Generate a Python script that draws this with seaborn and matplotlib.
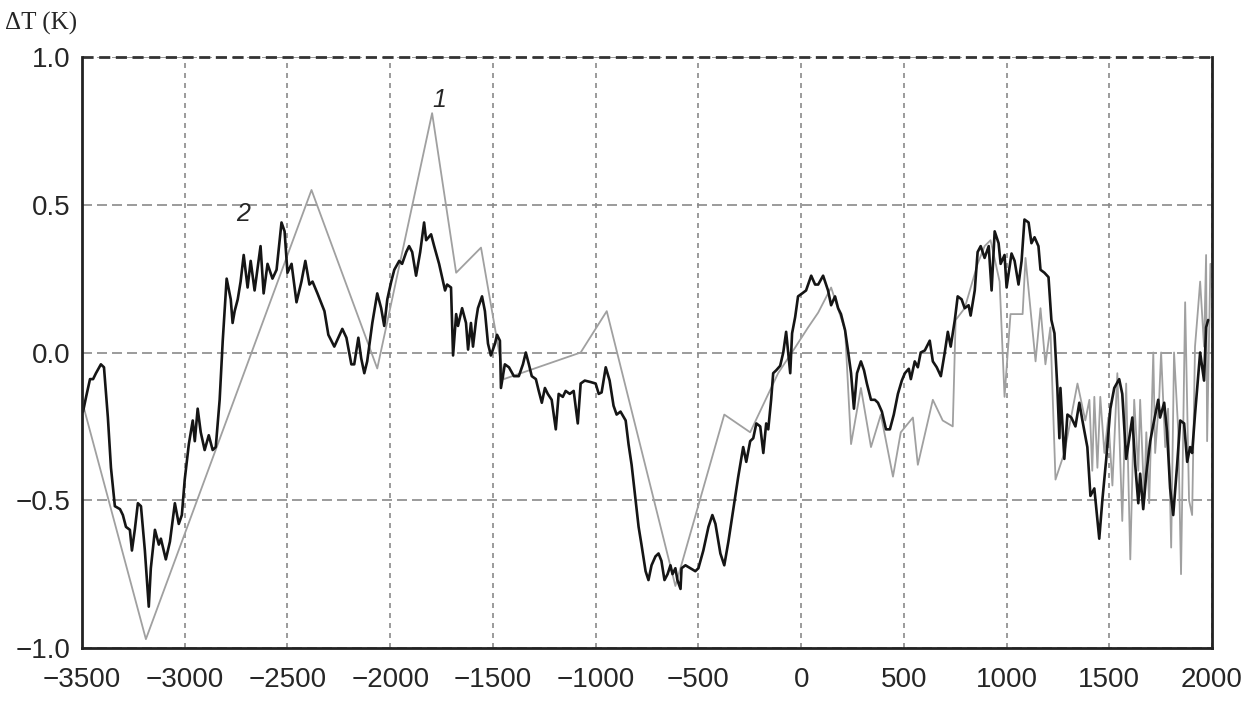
import pandas as pd
import matplotlib.pyplot as plt
import seaborn as sns

# series 2 (black, smoothed reconstruction)
black_year = [-3495, -3480, -3461, -3446, -3432, -3408, -3393, -3374, -3359, -3340,
              -3315, -3301, -3286, -3267, -3257, -3243, -3228, -3213, -3194, -3175,
              -3165, -3145, -3126, -3116, -3092, -3072, -3048, -3029, -3014, -3000,
              -2980, -2961, -2951, -2937, -2922, -2903, -2883, -2864, -2849, -2830,
              -2815, -2796, -2776, -2767, -2757, -2742, -2728, -2713, -2694, -2679,
              -2660, -2631, -2616, -2597, -2573, -2553, -2529, -2514, -2500, -2480,
              -2456, -2432, -2413, -2393, -2378, -2354, -2320, -2301, -2272, -2233,
              -2213, -2189, -2175, -2155, -2141, -2126, -2112, -2087, -2063, -2044,
              -2029, -2014, -1995, -1980, -1956, -1942, -1922, -1908, -1893, -1874,
              -1854, -1835, -1825, -1801, -1786, -1762, -1733, -1723, -1704, -1694,
              -1679, -1670, -1650, -1631, -1621, -1607, -1597, -1582, -1573, -1553,
              -1539, -1524, -1510, -1490, -1480, -1466, -1461, -1442, -1422, -1398,
              -1374, -1354, -1340, -1325, -1311, -1291, -1277, -1262, -1247, -1233,
              -1214, -1194, -1180, -1160, -1146, -1126, -1107, -1087, -1073, -1053,
              -1024, -1000, -985, -971, -951, -932, -913, -898, -879, -854,
              -840, -825, -791, -777, -757, -743, -728, -709, -694, -680,
              -665, -650, -636, -626, -612, -602, -587, -582, -563, -539,
              -515, -500, -476, -451, -432, -417, -393, -374, -354, -330,
              -306, -282, -267, -248, -233, -218, -199, -184, -170, -160,
              -146, -136, -121, -102, -87, -73, -53, -44, -29, -15,
              5, 24, 49, 68, 83, 107, 131, 146, 165, 180,
              194, 214, 228, 243, 257, 272, 291, 306, 320, 340,
              359, 374, 393, 413, 432, 451, 471, 490, 505, 524,
              534, 553, 568, 582, 602, 626, 641, 660, 680, 699,
              714, 728, 748, 762, 781, 796, 815, 825, 845, 859,
              874, 893, 913, 927, 942, 961, 971, 990, 1000, 1024,
              1039, 1058, 1073, 1087, 1107, 1121, 1136, 1155, 1165, 1184,
              1204, 1218, 1233, 1247, 1257, 1262, 1281, 1296, 1315, 1335,
              1354, 1369, 1393, 1408, 1427, 1451, 1466, 1485, 1505, 1524,
              1548, 1563, 1582, 1612, 1626, 1641, 1650, 1665, 1680, 1699,
              1718, 1738, 1747, 1767, 1781, 1796, 1811, 1830, 1845, 1864,
              1879, 1893, 1903, 1917, 1942, 1961, 1971, 1981]
black_dt = [-0.20, -0.15, -0.09, -0.09, -0.07, -0.04, -0.05, -0.22, -0.39, -0.52,
            -0.53, -0.55, -0.59, -0.60, -0.67, -0.60, -0.51, -0.52, -0.67, -0.86,
            -0.73, -0.60, -0.65, -0.63, -0.70, -0.64, -0.51, -0.58, -0.55, -0.43,
            -0.31, -0.23, -0.30, -0.19, -0.27, -0.33, -0.28, -0.33, -0.32, -0.16,
            0.04, 0.25, 0.18, 0.10, 0.14, 0.18, 0.24, 0.33, 0.22, 0.31,
            0.21, 0.36, 0.20, 0.30, 0.25, 0.28, 0.44, 0.41, 0.27, 0.30,
            0.17, 0.24, 0.31, 0.23, 0.24, 0.20, 0.14, 0.06, 0.02, 0.08,
            0.05, -0.04, -0.04, 0.05, -0.02, -0.07, -0.03, 0.10, 0.20, 0.15,
            0.09, 0.18, 0.24, 0.28, 0.31, 0.30, 0.34, 0.36, 0.34, 0.26,
            0.34, 0.44, 0.38, 0.40, 0.36, 0.30, 0.21, 0.23, 0.22, -0.01,
            0.13, 0.09, 0.15, 0.10, 0.01, 0.10, 0.02, 0.11, 0.15, 0.19,
            0.14, 0.03, -0.01, 0.03, 0.06, 0.04, -0.12, -0.04, -0.05, -0.08,
            -0.08, -0.04, 0.00, -0.04, -0.08, -0.09, -0.13, -0.17, -0.12, -0.14,
            -0.16, -0.26, -0.14, -0.15, -0.13, -0.14, -0.13, -0.24, -0.105, -0.095,
            -0.10, -0.105, -0.14, -0.135, -0.05, -0.095, -0.18, -0.21, -0.20, -0.23,
            -0.31, -0.38, -0.59, -0.65, -0.74, -0.77, -0.72, -0.69, -0.68, -0.705,
            -0.77, -0.75, -0.72, -0.75, -0.73, -0.77, -0.80, -0.73, -0.72, -0.73,
            -0.74, -0.73, -0.67, -0.59, -0.55, -0.58, -0.68, -0.72, -0.64, -0.53,
            -0.42, -0.32, -0.37, -0.30, -0.29, -0.24, -0.25, -0.34, -0.24, -0.26,
            -0.16, -0.07, -0.06, -0.045, 0.0, 0.07, -0.07, 0.065, 0.12, 0.19,
            0.20, 0.21, 0.26, 0.23, 0.23, 0.26, 0.21, 0.16, 0.19, 0.15,
            0.13, 0.075, 0.007, -0.07, -0.19, -0.07, -0.03, -0.06, -0.105, -0.16,
            -0.16, -0.17, -0.20, -0.26, -0.26, -0.21, -0.14, -0.095, -0.07, -0.055,
            -0.09, -0.03, -0.05, 0.0, 0.007, 0.04, -0.03, -0.05, -0.08, 0.0,
            0.07, 0.02, 0.11, 0.19, 0.18, 0.15, 0.16, 0.125, 0.21, 0.34,
            0.36, 0.32, 0.36, 0.21, 0.41, 0.37, 0.30, 0.33, 0.22, 0.335,
            0.31, 0.23, 0.31, 0.45, 0.44, 0.37, 0.39, 0.36, 0.28, 0.27,
            0.255, 0.11, 0.065, -0.12, -0.29, -0.12, -0.36, -0.21, -0.22, -0.25,
            -0.17, -0.23, -0.32, -0.485, -0.46, -0.63, -0.50, -0.36, -0.19, -0.12,
            -0.09, -0.14, -0.36, -0.22, -0.38, -0.51, -0.41, -0.53, -0.41, -0.30,
            -0.23, -0.16, -0.22, -0.17, -0.27, -0.46, -0.55, -0.38, -0.23, -0.24,
            -0.37, -0.32, -0.34, -0.21, 0.0, -0.095, 0.085, 0.11]

# series 1 (grey, proxy data)
grey_year = [-3490, -3189, -2383, -2063, -1796, -1679, -1558, -1447, -1073, -946,
             -612, -374, -248, -112, -29, 34, 83, 146, 214, 243,
             291, 340, 388, 447, 485, 544, 568, 641, 689, 738,
             752, 796, 859, 893, 922, 966, 990, 1019, 1078, 1092,
             1141, 1165, 1189, 1213, 1238, 1281, 1345, 1383, 1403, 1417,
             1427, 1442, 1456, 1476, 1495, 1515, 1539, 1563, 1582, 1602,
             1621, 1641, 1650, 1670, 1680, 1694, 1714, 1723, 1743, 1752,
             1772, 1786, 1801, 1815, 1835, 1849, 1869, 1888, 1903, 1917,
             1932, 1942, 1961, 1971, 1976, 1992]
grey_dt = [-0.19, -0.97, 0.55, -0.054, 0.81, 0.27, 0.355, -0.09, 0.0, 0.14,
           -0.79, -0.21, -0.27, -0.07, 0.017, 0.085, 0.135, 0.22, 0.075, -0.31,
           -0.12, -0.32, -0.21, -0.42, -0.27, -0.22, -0.38, -0.16, -0.23, -0.25,
           0.11, 0.15, 0.30, 0.36, 0.38, 0.24, -0.15, 0.13, 0.13, 0.32,
           -0.03, 0.15, -0.04, 0.085, -0.43, -0.34, -0.105, -0.23, -0.16, -0.40,
           -0.15, -0.39, -0.15, -0.34, -0.22, -0.45, -0.07, -0.57, -0.105, -0.70,
           -0.16, -0.40, -0.16, -0.50, -0.27, -0.51, 0.0, -0.34, -0.15, 0.0,
           -0.32, -0.19, -0.66, 0.0, -0.26, -0.75, 0.17, -0.50, -0.55, 0.02,
           0.15, 0.24, 0.02, 0.33, -0.30, 0.30]

x_ticks = [-3500, -3000, -2500, -2000, -1500, -1000, -500, 0, 500, 1000, 1500, 2000]
y_ticks = [-1.0, -0.5, 0.0, 0.5, 1.0]

df_black = pd.DataFrame({"year": black_year, "dT": black_dt})
df_grey = pd.DataFrame({"year": grey_year, "dT": grey_dt})

sns.set_style("white")
plt.rcParams['font.family'] = ['Liberation Sans', 'DejaVu Sans']

fig = plt.figure(figsize=(12.48, 7.08), dpi=100)
ax = fig.add_axes([0.0657, 0.0847, 0.9055, 0.8348])

sns.lineplot(data=df_grey, x="year", y="dT", ax=ax, color="#a0a0a0",
             linewidth=1.3, estimator=None, sort=False)
sns.lineplot(data=df_black, x="year", y="dT", ax=ax, color="#151515",
             linewidth=1.9, estimator=None, sort=False)

ax.set_xlim(-3500, 2000)
ax.set_ylim(-1.0, 1.0)
ax.set_xticks(x_ticks)
ax.set_yticks(y_ticks)
ax.set_xticklabels([f"{t}".replace("-", "\u2212") for t in x_ticks], fontsize=20)
ax.set_yticklabels([f"{t:.1f}".replace("-", "\u2212") for t in y_ticks], fontsize=20)
ax.tick_params(length=0, pad=8)
ax.tick_params(axis='x', pad=14)
ax.set_xlabel("")
ax.set_ylabel("")

ax.xaxis.grid(True, color="#8a8a8a", linestyle=(0, (3, 3)), linewidth=1.2)
ax.yaxis.grid(True, color="#8a8a8a", linestyle=(0, (6, 3)), linewidth=1.2)
ax.set_axisbelow(True)

for side in ["left", "bottom", "right"]:
    ax.spines[side].set_color("#222222")
    ax.spines[side].set_linewidth(2.0)
ax.spines["top"].set_visible(False)
# dark dashed line along the top edge
ax.axhline(1.0, color="#333333", linestyle=(0, (4, 2)), linewidth=2.0, clip_on=False)

ax.text(-1762, 0.855, "1", fontsize=18, style="italic", ha="center", va="center")
ax.text(-2718, 0.47, "2", fontsize=18, style="italic", ha="center", va="center")

fig.text(0.004, 0.967, "ΔT (K)", fontsize=18, family=["Liberation Serif", "DejaVu Serif"],
         ha="left", va="center")

fig.savefig("out.png", dpi=100)
